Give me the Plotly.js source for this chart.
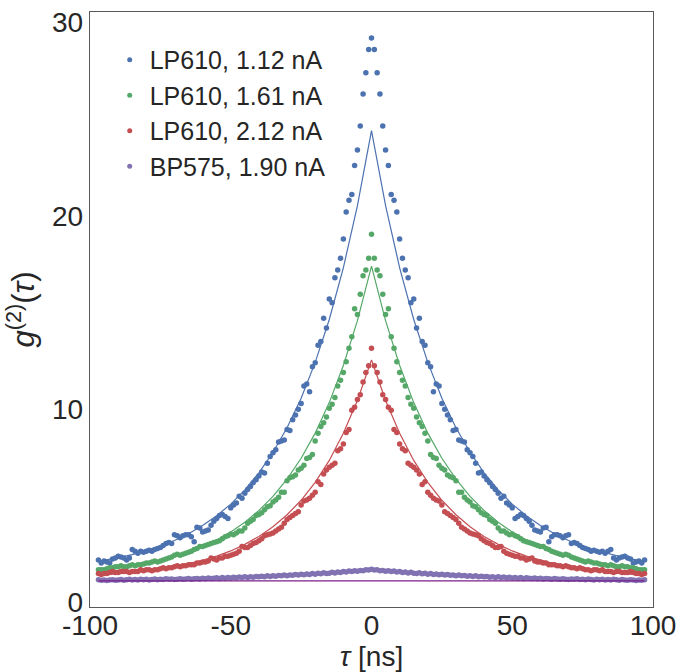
<!DOCTYPE html>
<html>
<head>
<meta charset="utf-8">
<script src="https://cdn.plot.ly/plotly-3.0.1.min.js"></script>
<style>html,body{margin:0;padding:0;background:#fff;}#chart{width:691px;height:672px;}</style>
</head>
<body>
<div id="chart"></div>
<script>
// Delay tau [ns]
var tau = [
-97,-96,-95,-94,-93,-92,-91,-90,-89,-88,
-87,-86,-85,-84,-83,-82,-81,-80,-79,-78,
-77,-76,-75,-74,-73,-72,-71,-70,-69,-68,
-67,-66,-65,-64,-63,-62,-61,-60,-59,-58,
-57,-56,-55,-54,-53,-52,-51,-50,-49,-48,
-47,-46,-45,-44,-43,-42,-41,-40,-39,-38,
-37,-36,-35,-34,-33,-32,-31,-30,-29,-28,
-27,-26,-25,-24,-23,-22,-21,-20,-19,-18,
-17,-16,-15,-14,-13,-12,-11,-10,-9,-8,
-7,-6,-5,-4,-3,-2,-1,
0,
1,2,3,4,5,6,7,8,9,10,
11,12,13,14,15,16,17,18,19,20,
21,22,23,24,25,26,27,28,29,30,
31,32,33,34,35,36,37,38,39,40,
41,42,43,44,45,46,47,48,49,50,
51,52,53,54,55,56,57,58,59,60,
61,62,63,64,65,66,67,68,69,70,
71,72,73,74,75,76,77,78,79,80,
81,82,83,84,85,86,87,88,89,90,
91,92,93,94,95,96,97];

// LP610, 1.12 nA
var g2_lp610_112 = [
2.2,2.05,2.15,2.1,2.05,2.25,2.3,2.4,2.35,2.3,
2.2,2.3,2.75,2.65,2.55,2.65,2.6,2.65,2.7,2.65,
2.75,2.8,2.85,2.95,3.05,3.1,3.05,3.5,3.45,3.35,
3.45,3.5,3.5,3.4,3.15,3.9,3.85,3.65,3.7,3.75,
4.0,4.2,4.35,4.5,4.55,4.45,4.35,4.9,5.05,5.15,
5.5,5.4,5.65,5.85,6.0,6.2,6.35,6.55,6.75,6.7,
7.2,7.55,7.75,7.9,8.3,8.35,8.4,8.95,8.9,9.45,
9.7,10.0,10.3,11.2,11.3,10.9,12.2,12.4,13.3,13.5,
14.7,14.2,15.7,15.5,16.8,17.2,17.8,18.8,20.2,20.8,
21.1,22.6,23.4,24.65,26.3,27.4,28.6,
29.2,
28.6,27.4,26.3,24.65,23.4,22.6,21.1,20.8,20.2,18.8,
17.8,17.2,16.8,15.5,15.7,14.2,14.7,13.5,13.3,12.4,
12.2,10.9,11.3,11.2,10.3,10.0,9.7,9.45,8.9,8.95,
8.4,8.35,8.3,7.9,7.75,7.55,7.2,6.7,6.75,6.55,
6.35,6.2,6.0,5.85,5.65,5.4,5.5,5.15,5.05,4.9,
4.35,4.45,4.55,4.5,4.35,4.2,4.0,3.75,3.7,3.65,
3.85,3.9,3.15,3.4,3.5,3.5,3.45,3.35,3.45,3.5,
3.05,3.1,3.05,2.95,2.85,2.8,2.75,2.65,2.7,2.65,
2.6,2.65,2.55,2.65,2.75,2.3,2.2,2.3,2.35,2.4,
2.3,2.25,2.05,2.1,2.15,2.05,2.2];

// LP610, 1.61 nA
var g2_lp610_161 = [
1.7,1.7,1.7,1.75,1.8,1.8,1.85,1.85,1.9,1.85,
1.85,1.9,1.95,1.9,1.95,1.95,2.0,2.05,2.05,2.1,
2.15,2.1,2.15,2.2,2.25,2.3,2.35,2.45,2.5,2.45,
2.5,2.55,2.6,2.65,2.75,2.8,2.9,2.9,2.95,3.0,
3.05,3.1,3.15,3.2,3.3,3.4,3.45,3.55,3.5,3.6,
3.7,3.7,3.85,4.1,4.2,4.3,4.5,4.55,4.65,4.8,
4.95,5.0,5.2,5.3,5.45,5.7,5.7,6.3,6.45,6.5,
6.6,6.85,6.95,7.1,7.45,7.5,7.65,8.35,8.75,9.1,
9.3,9.6,10.05,10.25,10.6,11.2,11.5,11.9,12.45,13.15,
13.75,15.2,14.9,15.95,16.9,17.2,17.8,
19.05,
17.8,17.2,16.9,15.95,14.9,15.2,13.75,13.15,12.45,11.9,
11.5,11.2,10.6,10.25,10.05,9.6,9.3,9.1,8.75,8.35,
7.65,7.5,7.45,7.1,6.95,6.85,6.6,6.5,6.45,6.3,
5.7,5.7,5.45,5.3,5.2,5.0,4.95,4.8,4.65,4.55,
4.5,4.3,4.2,4.1,3.85,3.7,3.7,3.6,3.5,3.55,
3.45,3.4,3.3,3.2,3.15,3.1,3.05,3.0,2.95,2.9,
2.9,2.8,2.75,2.65,2.6,2.55,2.5,2.45,2.5,2.45,
2.35,2.3,2.25,2.2,2.15,2.1,2.15,2.1,2.05,2.05,
2.0,1.95,1.95,1.9,1.95,1.9,1.85,1.85,1.9,1.85,
1.85,1.8,1.8,1.75,1.7,1.7,1.7];

// LP610, 2.12 nA
var g2_lp610_212 = [
1.5,1.45,1.5,1.5,1.55,1.6,1.55,1.55,1.6,1.6,
1.6,1.55,1.6,1.6,1.6,1.7,1.65,1.7,1.7,1.65,
1.7,1.7,1.75,1.8,1.75,1.8,1.8,1.85,1.9,1.85,
1.9,1.9,1.95,1.95,1.95,2.05,2.05,2.1,2.1,2.15,
2.3,2.25,2.2,2.3,2.3,2.4,2.4,2.45,2.5,2.55,
2.65,2.9,2.85,2.85,2.95,3.05,3.1,3.2,3.3,3.45,
3.5,3.55,3.6,3.7,3.8,3.9,4.1,4.3,4.4,4.5,
4.6,4.7,5.05,5.25,5.3,5.4,5.55,5.7,6.25,6.1,
6.65,6.85,7.0,7.1,7.2,7.85,7.95,8.2,8.8,8.95,
9.95,10.1,10.5,10.75,11.4,11.9,12.25,
13.15,
12.25,11.9,11.4,10.75,10.5,10.1,9.95,8.95,8.8,8.2,
7.95,7.85,7.2,7.1,7.0,6.85,6.65,6.1,6.25,5.7,
5.55,5.4,5.3,5.25,5.05,4.7,4.6,4.5,4.4,4.3,
4.1,3.9,3.8,3.7,3.6,3.55,3.5,3.45,3.3,3.2,
3.1,3.05,2.95,2.85,2.85,2.9,2.65,2.55,2.5,2.45,
2.4,2.4,2.3,2.3,2.2,2.25,2.3,2.15,2.1,2.1,
2.05,2.05,1.95,1.95,1.95,1.9,1.9,1.85,1.9,1.85,
1.8,1.8,1.75,1.8,1.75,1.7,1.7,1.65,1.7,1.7,
1.65,1.7,1.6,1.6,1.6,1.55,1.6,1.6,1.55,1.55,
1.55,1.6,1.55,1.5,1.5,1.45,1.5];

// BP575, 1.90 nA
var g2_bp575_190 = [
1.18,1.15,1.17,1.14,1.16,1.18,1.15,1.17,1.19,1.15,
1.18,1.20,1.16,1.19,1.17,1.21,1.18,1.20,1.17,1.19,
1.22,1.18,1.21,1.19,1.23,1.20,1.22,1.19,1.21,1.23,
1.20,1.22,1.24,1.21,1.23,1.25,1.22,1.26,1.23,1.27,
1.24,1.26,1.28,1.25,1.29,1.26,1.30,1.27,1.31,1.28,
1.32,1.29,1.33,1.30,1.34,1.31,1.35,1.33,1.36,1.34,
1.38,1.35,1.39,1.36,1.40,1.38,1.42,1.39,1.43,1.41,
1.45,1.42,1.46,1.44,1.48,1.45,1.50,1.47,1.51,1.49,
1.54,1.50,1.52,1.57,1.53,1.58,1.56,1.60,1.58,1.63,
1.60,1.65,1.62,1.66,1.64,1.70,1.68,
1.72,
1.68,1.70,1.64,1.66,1.62,1.65,1.60,1.63,1.58,1.60,
1.56,1.58,1.53,1.57,1.52,1.50,1.54,1.49,1.51,1.47,
1.50,1.45,1.48,1.44,1.46,1.42,1.45,1.41,1.43,1.39,
1.42,1.38,1.40,1.36,1.39,1.35,1.38,1.34,1.36,1.33,
1.35,1.31,1.34,1.30,1.33,1.29,1.32,1.28,1.31,1.27,
1.30,1.26,1.29,1.25,1.28,1.26,1.24,1.27,1.23,1.26,
1.22,1.25,1.23,1.21,1.24,1.22,1.20,1.23,1.21,1.19,
1.22,1.20,1.23,1.19,1.21,1.18,1.22,1.19,1.17,1.20,
1.18,1.21,1.17,1.19,1.16,1.20,1.18,1.15,1.19,1.17,
1.15,1.18,1.16,1.14,1.17,1.15,1.18];

// Fitted curves
var fitTau = [-97,-95,-90,-85,-80,-75,-70,-65,-60,-55,-50,-45,-40,-35,-30,-25,-20,-15,-10,-5,0,
              5,10,15,20,25,30,35,40,45,50,55,60,65,70,75,80,85,90,95,97];
var fit_lp610_112 = [2.13,2.18,2.32,2.48,2.68,2.92,3.21,3.56,3.98,4.49,5.09,5.83,6.71,7.77,9.04,10.57,12.42,14.64,17.31,20.53,24.4,
                     20.53,17.31,14.64,12.42,10.57,9.04,7.77,6.71,5.83,5.09,4.49,3.98,3.56,3.21,2.92,2.68,2.48,2.32,2.18,2.13];
var fit_lp610_161 = [1.69,1.72,1.81,1.91,2.04,2.2,2.39,2.62,2.9,3.24,3.65,4.15,4.76,5.49,6.38,7.46,8.76,10.34,12.26,14.58,17.4,
                     14.58,12.26,10.34,8.76,7.46,6.38,5.49,4.76,4.15,3.65,3.24,2.9,2.62,2.39,2.2,2.04,1.91,1.81,1.72,1.69];
var fit_lp610_212 = [1.42,1.43,1.49,1.55,1.63,1.73,1.85,2.0,2.18,2.4,2.67,3.01,3.42,3.92,4.54,5.29,6.22,7.35,8.75,10.45,12.55,
                     10.45,8.75,7.35,6.22,5.29,4.54,3.92,3.42,3.01,2.67,2.4,2.18,2.0,1.85,1.73,1.63,1.55,1.49,1.43,1.42];
var fit_bp575_190 = [1.12,1.12,1.12,1.12,1.12,1.12,1.12,1.12,1.12,1.12,1.12,1.12,1.12,1.12,1.12,1.12,1.12,1.12,1.12,1.12,1.12,
                     1.12,1.12,1.12,1.12,1.12,1.12,1.12,1.12,1.12,1.12,1.12,1.12,1.12,1.12,1.12,1.12,1.12,1.12,1.12,1.12];

var seriesNames = ['LP610, 1.12 nA', 'LP610, 1.61 nA', 'LP610, 2.12 nA', 'BP575, 1.90 nA'];
var xTickVals = [-100, -50, 0, 50, 100];
var xTickText = ['-100', '-50', '0', '50', '100'];
var yTickVals = [0, 10, 20, 30];

var seriesData = [g2_lp610_112, g2_lp610_161, g2_lp610_212, g2_bp575_190];
var fitData = [fit_lp610_112, fit_lp610_161, fit_lp610_212, fit_bp575_190];
var dotColors = ['#4C72B0', '#55A868', '#C44E52', '#8172B2'];
var lineColors = ['#4C72B0', '#55A868', '#C44E52', '#7A1E8A'];

var FONT = 'Liberation Sans, Arial, Helvetica, sans-serif';
var traces = [];
for (var i = 0; i < seriesData.length; i++) {
  traces.push({
    x: tau, y: seriesData[i], type: 'scatter', mode: 'markers',
    marker: {color: dotColors[i], size: 5.5, line: {width: 0}},
    showlegend: false, hoverinfo: 'skip'
  });
  traces.push({
    x: fitTau, y: fitData[i], type: 'scatter', mode: 'lines',
    line: {color: lineColors[i], width: 1.2},
    showlegend: false, hoverinfo: 'skip'
  });
}
// legend entries
for (var j = 0; j < seriesNames.length; j++) {
  traces.push({
    x: [null], y: [null], type: 'scatter', mode: 'markers',
    name: seriesNames[j], legendgroup: 'g' + j,
    marker: {color: dotColors[j], size: 5}
  });
}

var layout = {
  width: 691, height: 672,
  margin: {l: 90, r: 38, t: 12, b: 65, pad: 0},
  paper_bgcolor: '#ffffff', plot_bgcolor: '#ffffff',
  font: {family: FONT, color: '#262626'},
  showlegend: true,
  legend: {
    x: 0.035, y: 0.958, xanchor: 'left', yanchor: 'top',
    bgcolor: 'rgba(0,0,0,0)', borderwidth: 0,
    font: {family: FONT, size: 25, color: '#262626'},
    tracegroupgap: 0, itemsizing: 'trace'
  },
  xaxis: {
    range: [-100, 100], autorange: false,
    tickvals: xTickVals, ticktext: xTickText,
    showgrid: false, zeroline: false, ticks: '',
    ticklabelstandoff: -7,
    showline: true, mirror: true, linecolor: '#595959', linewidth: 1.3,
    tickfont: {family: FONT, size: 28, color: '#262626'},
    title: {text: '<i>τ</i> [ns]', font: {family: FONT, size: 28, color: '#262626'}, standoff: 2}
  },
  yaxis: {
    range: [-0.23, 30.54], autorange: false,
    tickvals: yTickVals,
    showgrid: false, zeroline: false, ticks: '',
    showline: true, mirror: true, linecolor: '#595959', linewidth: 1.3,
    tickfont: {family: FONT, size: 28, color: '#262626'},
    title: {text: '<i>g</i><sup>(2)</sup>(<i>τ</i>)', font: {family: FONT, size: 31, color: '#262626'}, standoff: 8}
  }
};

Plotly.newPlot('chart', traces, layout, {displayModeBar: false, staticPlot: true});
</script>
</body>
</html>
